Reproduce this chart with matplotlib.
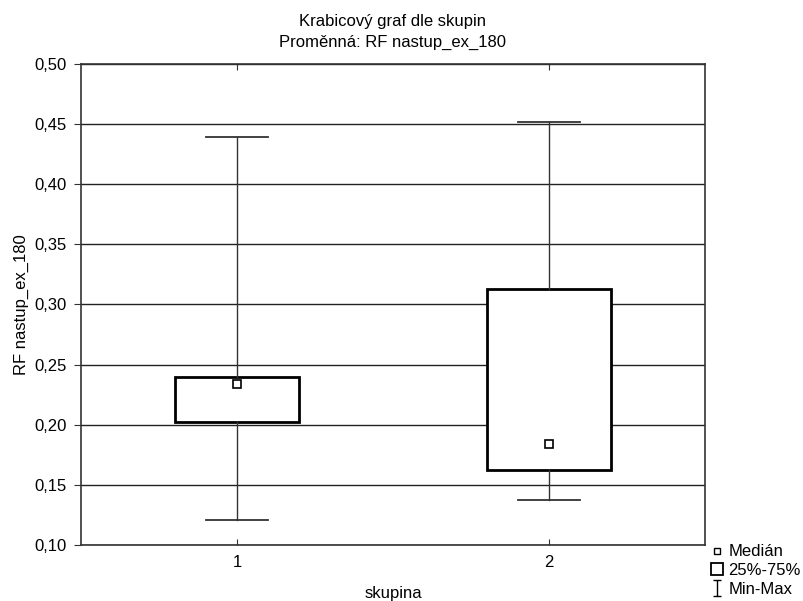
import matplotlib
matplotlib.use("Agg")
import matplotlib.pyplot as plt
from matplotlib.lines import Line2D
from matplotlib.path import Path

plt.rcParams['font.family'] = ['Liberation Sans', 'DejaVu Sans']
plt.rcParams['font.size'] = 12

# Data
groups = ["1", "2"]
mins = [0.121, 0.137]
q1 = [0.2025, 0.162]
medians = [0.234, 0.184]
q3 = [0.240, 0.3125]
maxs = [0.439, 0.452]

stats = []
for i in range(len(groups)):
    stats.append(dict(label=groups[i], whislo=mins[i], q1=q1[i], med=medians[i],
                      q3=q3[i], whishi=maxs[i], fliers=[]))

fig = plt.figure(figsize=(8.04, 6.01), dpi=100)
ax = fig.add_axes([0.1007, 0.0932, 0.7762, 0.8003])

pos = [1, 2]
ax.bxp(stats, positions=pos, widths=0.4, showfliers=False, patch_artist=True,
       boxprops=dict(facecolor='white', edgecolor='black', linewidth=2),
       whiskerprops=dict(color='#333333', linewidth=1),
       capprops=dict(color='#333333', linewidth=1.3),
       medianprops=dict(linewidth=0),
       capwidths=0.2, zorder=3)
ax.plot(pos, medians, 's', ms=6, mfc='white', mec='black', mew=1.2, zorder=4)

ax.set_xlim(0.5, 2.5)
ax.set_ylim(0.10, 0.50)
ax.set_yticks([0.10, 0.15, 0.20, 0.25, 0.30, 0.35, 0.40, 0.45, 0.50])
ax.set_yticklabels(["0,10", "0,15", "0,20", "0,25", "0,30", "0,35", "0,40", "0,45", "0,50"])
ax.set_xticks(pos)
ax.set_xticklabels(groups)
ax.yaxis.grid(True, color='#222222', linewidth=1)
ax.set_axisbelow(True)
ax.tick_params(axis='y', direction='out', length=5, color='#333333', pad=5)
ax.tick_params(axis='x', direction='in', length=4, top=True, color='#333333', pad=7)
for s in ax.spines.values():
    s.set_linewidth(1.2)
    s.set_color('#333333')

ax.set_title("Krabicový graf dle skupin\nProměnná: RF nastup_ex_180", fontsize=12, pad=12,
             linespacing=1.5)
ax.set_ylabel("RF nastup_ex_180", fontsize=12, labelpad=4)
ax.set_xlabel("skupina", fontsize=12, labelpad=12)

minmax = Path([(-0.5, 1), (0.5, 1), (0, 1), (0, -1), (-0.5, -1), (0.5, -1)],
              [Path.MOVETO, Path.LINETO, Path.MOVETO, Path.LINETO, Path.MOVETO, Path.LINETO])
handles = [
    Line2D([], [], linestyle='none', marker='s', ms=5, mfc='white', mec='black', mew=1),
    Line2D([], [], linestyle='none', marker='s', ms=9, mfc='white', mec='black', mew=1.3),
    Line2D([], [], linestyle='none', marker=minmax, ms=11, mec='black', mew=1),
]
fig.legend(handles, ["Medián", "25%-75%", "Min-Max"], loc='upper left',
           bbox_to_anchor=(0.872, 0.108), frameon=False, handlelength=0.9,
           handletextpad=0.25, labelspacing=0.22, borderpad=0, fontsize=12)

fig.savefig("out.png", dpi=100)
